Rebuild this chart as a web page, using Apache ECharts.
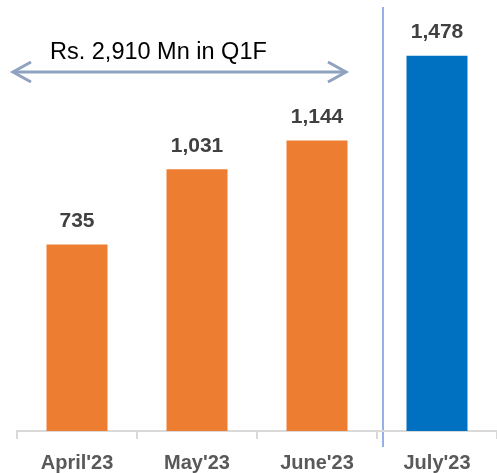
<!DOCTYPE html>
<html><head><meta charset="utf-8">
<script src="https://cdn.jsdelivr.net/npm/echarts@6/dist/echarts.min.js"></script>
<style>html,body{margin:0;padding:0;background:#fff}#c{width:497px;height:473px}</style>
</head><body><div id="c"></div>
<script>
const categories = ["April'23", "May'23", "June'23", "July'23"];
const values = [735, 1031, 1144, 1478];
const barColors = ["#ED7D31", "#ED7D31", "#ED7D31", "#0070C0"];
const annotation = "Rs. 2,910 Mn in Q1F";

const chart = echarts.init(document.getElementById('c'));
const arrowColor = '#8FA2C0';
chart.setOption({
  animation: false,
  grid: { left: 17, top: 0, width: 484, height: 432 },
  xAxis: {
    type: 'category', data: categories,
    axisLine: { lineStyle: { color: '#D9D9D9', width: 2 } },
    axisTick: { show: true, length: 8, lineStyle: { color: '#D9D9D9', width: 2 } },
    axisLabel: { color: '#595959', fontFamily: 'Liberation Sans', fontWeight: 'bold', fontSize: 20, margin: 22 }
  },
  yAxis: { type: 'value', min: 0, max: 1698, show: false, splitLine: { show: false } },
  series: [{
    type: 'bar', barWidth: 61,
    data: values.map((v, i) => ({ value: v, itemStyle: { color: barColors[i] } })),
    label: {
      show: true, position: 'top', distance: 13,
      formatter: p => p.value.toLocaleString('en-US'),
      color: '#404040', fontFamily: 'Liberation Sans', fontWeight: 'bold', fontSize: 21
    }
  }],
  graphic: [
    { type: 'line', shape: { x1: 383, y1: 7, x2: 383, y2: 447 }, style: { stroke: '#7096DC', lineWidth: 1.5 } },
    { type: 'line', shape: { x1: 13, y1: 72, x2: 346, y2: 72 }, style: { stroke: arrowColor, lineWidth: 3 } },
    { type: 'polyline', shape: { points: [[31, 62], [13, 72], [31, 82]] }, style: { stroke: arrowColor, lineWidth: 3, fill: null } },
    { type: 'polyline', shape: { points: [[328, 62], [346, 72], [328, 82]] }, style: { stroke: arrowColor, lineWidth: 3, fill: null } },
    { type: 'text', left: 50, top: 41, style: { text: annotation, fill: '#000', fontFamily: 'Liberation Sans', fontSize: 23.5 } }
  ]
});
</script></body></html>
